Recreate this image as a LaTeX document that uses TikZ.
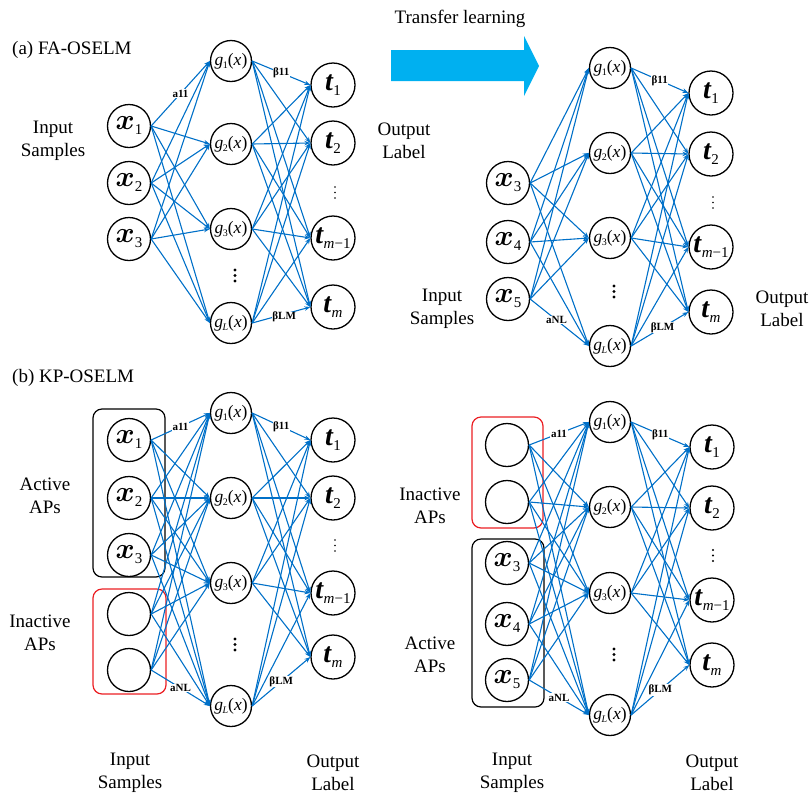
\documentclass[tikz,border=0pt]{standalone}
\usepackage{fix-cm}
\usepackage{fontspec}
\setmainfont{Liberation Serif}
\usetikzlibrary{arrows.meta}
\definecolor{eblue}{RGB}{0,112,200}
\definecolor{tblue}{RGB}{0,176,240}
\definecolor{rred}{RGB}{235,30,35}
\newcommand{\myX}[1]{{\fontsize{29}{29}\selectfont\boldmath$x$}\kern0.3pt\raisebox{-5pt}{\fontsize{15}{15}\selectfont #1}}
\newcommand{\myT}[1]{{\fontsize{28}{28}\selectfont\bfseries\itshape t}\kern0.5pt\raisebox{-5pt}{\fontsize{15}{15}\selectfont #1}}
\newcommand{\myG}[1]{{\fontsize{17.5}{17.5}\selectfont\itshape g\kern-0.5pt\raisebox{-3pt}{\fontsize{10}{10}\selectfont\upshape #1}\upshape(\itshape x\upshape)}}
\tikzset{
  inp/.style={circle, draw, line width=1.3pt, minimum size=43pt, inner sep=0pt},
  hid/.style={circle, draw, line width=1.3pt, minimum size=41pt, inner sep=0pt},
  outn/.style={circle, draw, line width=1.3pt, minimum size=44pt, inner sep=0pt},
  edge/.style={draw=eblue, line width=1.1pt, -{Stealth[length=6pt,width=4.5pt]}},
  lbl/.style={fill=white, inner sep=0.6pt, font=\bfseries\fontsize{11}{11}\selectfont},
  txt/.style={font=\fontsize{19}{23}\selectfont, align=center, inner sep=0pt},
  grp/.style={draw, line width=1.2pt, rounded corners=9pt},
}
\begin{document}
\begin{tikzpicture}[x=1pt,y=-1pt]
\useasboundingbox (0,0) rectangle (811,796);

% ---------------- Panel A (top-left) ----------------
\node[txt, anchor=west] (A-title) at (12,50) {(a) FA-OSELM};
\node[inp] (A-x1) at (129,126) {\myX{1}};
\node[inp] (A-x2) at (129,183) {\myX{2}};
\node[inp] (A-x3) at (129,239) {\myX{3}};
\node[hid] (A-g1) at (231,61) {\myG{1}};
\node[hid] (A-g2) at (231,144) {\myG{2}};
\node[hid] (A-g3) at (231,229) {\myG{3}};
\node[hid] (A-gL) at (231,323) {\myG{\textit{L}}};
\node[outn] (A-t1) at (333,85) {\myT{1}};
\node[outn] (A-t2) at (333,143) {\myT{2}};
\node[outn] (A-tm1) at (333,238) {\myT{\textit{m}−1}};
\node[outn] (A-tm) at (333,307) {\myT{\textit{m}}};
\node[txt] (A-in) at (53,141) {Input\\Samples};
\node[txt] (A-out) at (404,141) {Output\\Label};
\foreach \s in {x1,x2,x3} \foreach \d in {g1,g2,g3,gL} \draw[edge] (A-\s.east) -- (A-\d.west);
\foreach \s in {g1,g2,g3,gL} \foreach \d in {t1,t2,tm1,tm} \draw[edge] (A-\s.east) -- (A-\d.west);
\path (A-x1.east) -- (A-g1.west) node[lbl,pos=.5] {a11};
\path (A-g1.east) -- (A-t1.west) node[lbl,pos=.5] {β11};
\path (A-gL.east) -- (A-tm.west) node[lbl,pos=.55,yshift=-3pt] {βLM};
\foreach \yy in {270,275.5,281} \fill (235,\yy) circle (1.6pt);
\foreach \yy in {187,192.5,198} \fill (335,\yy) circle (0.9pt);

% ---------------- Transfer arrow ----------------
\node[txt] (TL) at (460,19) {Transfer learning};
\fill[tblue] (391,50) -- (524,50) -- (524,36) -- (539,66) -- (524,96) -- (524,81) -- (391,81) -- cycle;

% ---------------- Panel A' (top-right) ----------------
\node[inp] (R-x3) at (508,183) {\myX{3}};
\node[inp] (R-x4) at (508,242) {\myX{4}};
\node[inp] (R-x5) at (508,299) {\myX{5}};
\node[hid] (R-g1) at (610,68) {\myG{1}};
\node[hid] (R-g2) at (610,153) {\myG{2}};
\node[hid] (R-g3) at (610,238) {\myG{3}};
\node[hid] (R-gL) at (610,346) {\myG{\textit{L}}};
\node[outn] (R-t1) at (711,93) {\myT{1}};
\node[outn] (R-t2) at (711,154) {\myT{2}};
\node[outn] (R-tm1) at (711,247) {\myT{\textit{m}−1}};
\node[outn] (R-tm) at (711,312) {\myT{\textit{m}}};
\node[txt] (R-in) at (442,309) {Input\\Samples};
\node[txt] (R-out) at (782,309) {Output\\Label};
\foreach \s in {x3,x4,x5} \foreach \d in {g1,g2,g3,gL} \draw[edge] (R-\s.east) -- (R-\d.west);
\foreach \s in {g1,g2,g3,gL} \foreach \d in {t1,t2,tm1,tm} \draw[edge] (R-\s.east) -- (R-\d.west);
\path (R-x5.east) -- (R-gL.west) node[lbl,pos=.45] {aNL};
\path (R-g1.east) -- (R-t1.west) node[lbl,pos=.5] {β11};
\path (R-gL.east) -- (R-tm.west) node[lbl,pos=.55] {βLM};
\foreach \yy in {286,291.5,297} \fill (614,\yy) circle (1.6pt);
\foreach \yy in {197,202.5,208} \fill (713,\yy) circle (0.9pt);

% ---------------- Panel B (bottom-left) ----------------
\node[txt, anchor=west] (B-title) at (12,378) {(b) KP-OSELM};
\draw[grp] (93,409) rectangle (165,577);
\draw[grp, draw=rred] (93,589) rectangle (166,694);
\node[inp] (B-x1) at (129,440) {\myX{1}};
\node[inp] (B-x2) at (129,498) {\myX{2}};
\node[inp] (B-x3) at (129,555) {\myX{3}};
\node[inp] (B-e1) at (129,614) {};
\node[inp] (B-e2) at (129,670) {};
\node[hid] (B-g1) at (231,413) {\myG{1}};
\node[hid] (B-g2) at (231,498) {\myG{2}};
\node[hid] (B-g3) at (231,583) {\myG{3}};
\node[hid] (B-gL) at (231,706) {\myG{\textit{L}}};
\node[outn] (B-t1) at (333,440) {\myT{1}};
\node[outn] (B-t2) at (333,498) {\myT{2}};
\node[outn] (B-tm1) at (333,593) {\myT{\textit{m}−1}};
\node[outn] (B-tm) at (333,657) {\myT{\textit{m}}};
\node[txt] (B-act) at (45,496) {Active\\APs};
\node[txt] (B-inact) at (40,633) {Inactive\\APs};
\node[txt] (B-in) at (130,773) {Input\\Samples};
\node[txt] (B-out) at (333,773) {Output\\Label};
\foreach \s in {x1,x2,x3,e1,e2} \foreach \d in {g1,g2,g3,gL} \draw[edge] (B-\s.east) -- (B-\d.west);
\foreach \s in {g1,g2,g3,gL} \foreach \d in {t1,t2,tm1,tm} \draw[edge] (B-\s.east) -- (B-\d.west);
\path (B-x1.east) -- (B-g1.west) node[lbl,pos=.5] {a11};
\path (B-e2.east) -- (B-gL.west) node[lbl,pos=.5] {aNL};
\path (B-g1.east) -- (B-t1.west) node[lbl,pos=.5] {β11};
\path (B-gL.east) -- (B-tm.west) node[lbl,pos=.5] {βLM};
\foreach \yy in {639,644.5,650} \fill (235,\yy) circle (1.6pt);
\foreach \yy in {540,545.5,551} \fill (335,\yy) circle (0.9pt);

% ---------------- Panel B' (bottom-right) ----------------
\draw[grp, draw=rred] (472,417) rectangle (543,528);
\draw[grp] (472,539) rectangle (544,707);
\node[inp] (S-e1) at (507,445) {};
\node[inp] (S-e2) at (507,502) {};
\node[inp] (S-x3) at (507,563) {\myX{3}};
\node[inp] (S-x4) at (507,624) {\myX{4}};
\node[inp] (S-x5) at (507,680) {\myX{5}};
\node[hid] (S-g1) at (610,422) {\myG{1}};
\node[hid] (S-g2) at (610,507) {\myG{2}};
\node[hid] (S-g3) at (610,593) {\myG{3}};
\node[hid] (S-gL) at (610,715) {\myG{\textit{L}}};
\node[outn] (S-t1) at (712,447) {\myT{1}};
\node[outn] (S-t2) at (712,508) {\myT{2}};
\node[outn] (S-tm1) at (712,600) {\myT{\textit{m}−1}};
\node[outn] (S-tm) at (712,665) {\myT{\textit{m}}};
\node[txt] (S-inact) at (430,506) {Inactive\\APs};
\node[txt] (S-act) at (430,655) {Active\\APs};
\node[txt] (S-in) at (512,773) {Input\\Samples};
\node[txt] (S-out) at (712,773) {Output\\Label};
\foreach \s in {e1,e2,x3,x4,x5} \foreach \d in {g1,g2,g3,gL} \draw[edge] (S-\s.east) -- (S-\d.west);
\foreach \s in {g1,g2,g3,gL} \foreach \d in {t1,t2,tm1,tm} \draw[edge] (S-\s.east) -- (S-\d.west);
\path (S-e1.east) -- (S-g1.west) node[lbl,pos=.5] {a11};
\path (S-x5.east) -- (S-gL.west) node[lbl,pos=.5] {aNL};
\path (S-g1.east) -- (S-t1.west) node[lbl,pos=.5] {β11};
\path (S-gL.east) -- (S-tm.west) node[lbl,pos=.5] {βLM};
\foreach \yy in {649,654.5,660} \fill (614,\yy) circle (1.6pt);
\foreach \yy in {550,555.5,561} \fill (713,\yy) circle (1.2pt);
\end{tikzpicture}
\end{document}
